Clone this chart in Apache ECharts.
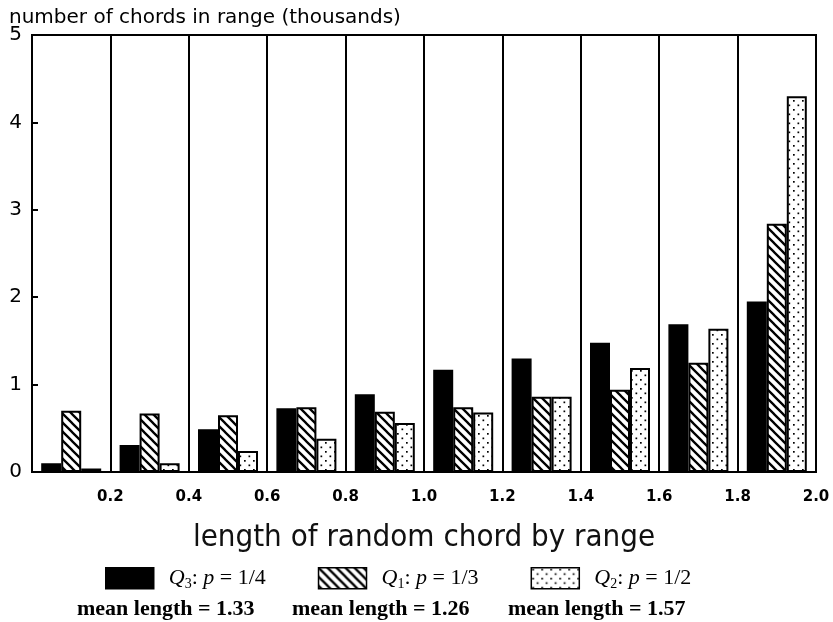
<!DOCTYPE html>
<html lang="en">
<head>
    <meta charset="UTF-8">
    <title>Random chord lengths</title>
    <script src="https://cdn.jsdelivr.net/npm/echarts@6/dist/echarts.min.js"></script>
</head>
<body style="margin:0;background:#fff;">
<div id="main" style="width: 833px;height:622px;"></div>
<script type="text/javascript">
    // chord length ranges (width 0.2) and counts per range, in thousands
    var ranges = ['0.0-0.2', '0.2-0.4', '0.4-0.6', '0.6-0.8', '0.8-1.0',
                  '1.0-1.2', '1.2-1.4', '1.4-1.6', '1.6-1.8', '1.8-2.0'];
    var q3 = [0.10, 0.31, 0.49, 0.73, 0.89, 1.17, 1.30, 1.48, 1.69, 1.95];
    var q1 = [0.70, 0.67, 0.65, 0.74, 0.69, 0.74, 0.86, 0.94, 1.25, 2.84];
    var q2 = [0.04, 0.10, 0.24, 0.38, 0.56, 0.68, 0.86, 1.19, 1.64, 4.30];
    var meanLengths = ['1.33', '1.26', '1.57'];

    // fill patterns: diagonal hatch and dots
    function hatch() {
        var c = document.createElement('canvas');
        c.width = 9; c.height = 9;
        var ctx = c.getContext('2d');
        ctx.fillStyle = '#fff';
        ctx.fillRect(0, 0, 9, 9);
        ctx.strokeStyle = '#000';
        ctx.lineWidth = 2.3;
        ctx.beginPath();
        ctx.moveTo(-1, -1); ctx.lineTo(10, 10);
        ctx.moveTo(-10, -1); ctx.lineTo(1, 10);
        ctx.moveTo(8, -1); ctx.lineTo(19, 10);
        ctx.stroke();
        return c;
    }
    function dots() {
        var c = document.createElement('canvas');
        c.width = 9; c.height = 9;
        var ctx = c.getContext('2d');
        ctx.fillStyle = '#fff';
        ctx.fillRect(0, 0, 9, 9);
        ctx.fillStyle = '#000';
        ctx.fillRect(1, 1, 1.7, 1.7);
        ctx.fillRect(5.5, 5.5, 1.7, 1.7);
        return c;
    }

    var myChart = echarts.init(document.getElementById('main'));

    var labels = {
        'Q3': '{i|Q}{s|3}{n|: }{i|p}{n| = 1/4}',
        'Q1': '{i|Q}{s|1}{n|: }{i|p}{n| = 1/3}',
        'Q2': '{i|Q}{s|2}{n|: }{i|p}{n| = 1/2}'
    };
    var serif = 'Liberation Serif';

    myChart.setOption({
        animation: false,
        title: {
            text: 'number of chords in range (thousands)',
            left: 4,
            top: 3,
            textStyle: {fontFamily: 'DejaVu Sans', fontSize: 20, fontWeight: 'normal', color: '#000'}
        },
        legend: {
            data: ['Q3', 'Q1', 'Q2'],
            icon: 'rect',
            left: 100,
            top: 562,
            itemWidth: 48,
            itemHeight: 21,
            itemGap: 52,
            formatter: function (name) { return labels[name]; },
            itemStyle: {borderColor: '#000', borderWidth: 1.5},
            textStyle: {
                padding: [0, 0, 0, 10],
                rich: {
                    i: {fontFamily: serif, fontSize: 22, fontStyle: 'italic', color: '#000', lineHeight: 26},
                    s: {fontFamily: serif, fontSize: 14, color: '#000', verticalAlign: 'bottom', lineHeight: 26},
                    n: {fontFamily: serif, fontSize: 22, color: '#000', lineHeight: 26}
                }
            }
        },
        graphic: meanLengths.map(function (m, i) {
            return {
                type: 'text',
                left: [77, 292, 508][i],
                top: 598,
                style: {text: 'mean length = ' + m, font: 'bold 22px "Liberation Serif"', fill: '#000'}
            };
        }),
        grid: {
            left: 32, right: 17, top: 35, bottom: 150,
            show: true, borderColor: '#000', borderWidth: 2
        },
        xAxis: [{
            type: 'category',
            data: ranges,
            axisLine: {lineStyle: {color: '#000', width: 2}},
            axisTick: {show: false},
            axisLabel: {show: false},
            splitLine: {show: true, lineStyle: {color: '#000', width: 2}},
            name: 'length of random chord by range',
            nameLocation: 'middle',
            nameGap: 50,
            nameTextStyle: {fontFamily: 'DejaVu Sans Condensed', fontSize: 31, color: '#111'}
        }, {
            type: 'value',
            position: 'bottom',
            min: 0, max: 2, interval: 0.2,
            axisLine: {show: false},
            axisTick: {show: false},
            splitLine: {show: false},
            axisLabel: {
                margin: 18,
                fontFamily: 'DejaVu Sans', fontSize: 15, fontWeight: 'bold', color: '#000',
                formatter: function (v) { return v < 0.01 ? '' : v.toFixed(1); }
            }
        }],
        yAxis: {
            type: 'value',
            min: 0, max: 5, interval: 1,
            axisLine: {show: true, lineStyle: {color: '#000', width: 2}},
            axisTick: {show: true, inside: true, length: 6, lineStyle: {color: '#000', width: 2}},
            splitLine: {show: false},
            axisLabel: {margin: 10, fontFamily: 'DejaVu Sans', fontSize: 20, color: '#000'}
        },
        series: [{
            name: 'Q3', type: 'bar', data: q3,
            barWidth: 20, barGap: '0%',
            itemStyle: {color: '#000', borderColor: '#000', borderWidth: 1.5}
        }, {
            name: 'Q1', type: 'bar', data: q1,
            barWidth: 20, barGap: '0%',
            itemStyle: {color: {image: hatch(), repeat: 'repeat'}, borderColor: '#000', borderWidth: 2}
        }, {
            name: 'Q2', type: 'bar', data: q2,
            barWidth: 20, barGap: '0%',
            itemStyle: {color: {image: dots(), repeat: 'repeat'}, borderColor: '#000', borderWidth: 2}
        }]
    });
</script>
</body>
</html>
